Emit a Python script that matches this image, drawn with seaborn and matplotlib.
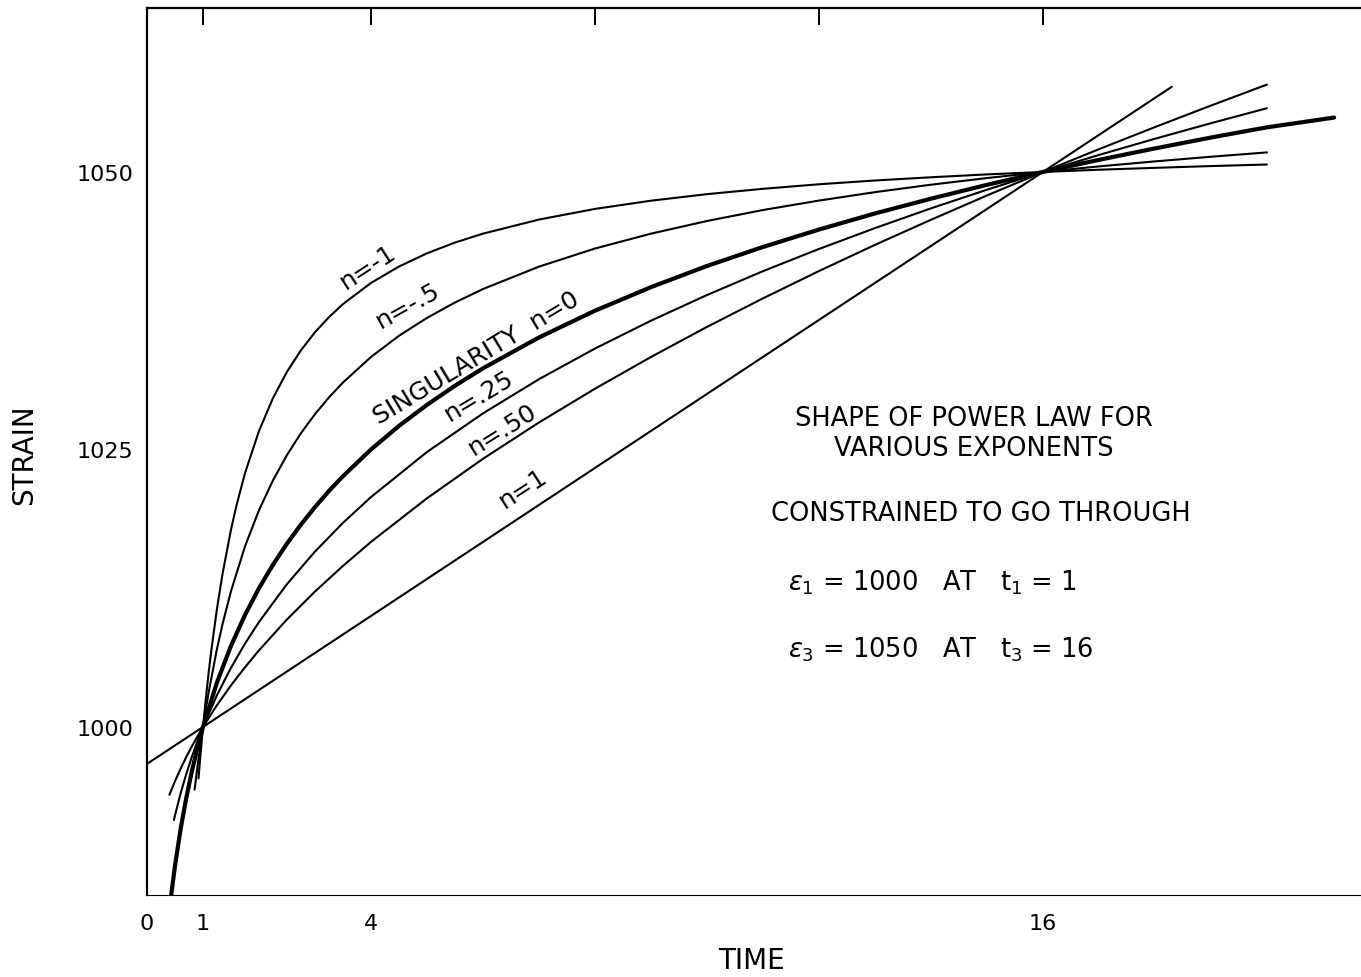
"""
Power-law creep curves constrained through two points.

Strain vs time for exponents n = -1, -.5, 0 (log, "singularity"), .25, .50, 1,
all passing through (1, 1000) and (16, 1050).
"""

import pandas as pd
import matplotlib
matplotlib.use("Agg")
import matplotlib.pyplot as plt
import seaborn as sns

# DATA #########################################################################
time_n_m1 = [0.92, 0.95, 1, 1.05, 1.1, 1.15, 1.25, 1.35, 1.5, 1.6, 1.75, 2,
             2.25, 2.5, 2.75, 3, 3.25, 3.5, 4, 4.5, 5, 5.5, 6, 7, 8, 9, 10,
             11, 12, 13, 14, 15, 16, 17, 18, 19, 20]
strain_n_m1 = [995.36, 997.19, 1000.0, 1002.54, 1004.85, 1006.95, 1010.67,
               1013.82, 1017.78, 1020.00, 1022.86, 1026.67, 1029.63, 1032.00,
               1033.94, 1035.56, 1036.92, 1038.10, 1040.00, 1041.48, 1042.67,
               1043.64, 1044.44, 1045.71, 1046.67, 1047.41, 1048.00, 1048.48,
               1048.89, 1049.23, 1049.52, 1049.78, 1050.00, 1050.20, 1050.37,
               1050.53, 1050.67]

time_n_m05 = [0.85, 0.9, 1, 1.1, 1.25, 1.35, 1.5, 1.75, 2, 2.25, 2.5, 2.75, 3,
              3.25, 3.5, 4, 4.5, 5, 5.5, 6, 7, 8, 9, 10, 11, 12, 13, 14, 15,
              16, 17, 18, 19, 20]
strain_n_m05 = [994.36, 996.39, 1000.0, 1003.10, 1007.04, 1009.29, 1012.23,
                1016.27, 1019.53, 1022.22, 1024.50, 1026.47, 1028.18, 1029.69,
                1031.03, 1033.33, 1035.24, 1036.85, 1038.24, 1039.45, 1041.47,
                1043.10, 1044.44, 1045.58, 1046.57, 1047.42, 1048.18, 1048.85,
                1049.45, 1050.00, 1050.50, 1050.95, 1051.37, 1051.76]

time_n_0 = [0.43, 0.5, 0.6, 0.7, 0.8, 0.9, 1, 1.25, 1.5, 1.75, 2, 2.25, 2.5,
            2.75, 3, 3.25, 3.5, 4, 4.5, 5, 5.5, 6, 7, 8, 9, 10, 11, 12, 13,
            14, 15, 16, 17, 18, 19, 20, 21.2]
strain_n_0 = [984.78, 987.50, 990.79, 993.57, 995.98, 998.10, 1000.0, 1004.02,
              1007.31, 1010.09, 1012.50, 1014.62, 1016.52, 1018.24, 1019.81,
              1021.26, 1022.59, 1025.00, 1027.12, 1029.02, 1030.74, 1032.31,
              1035.09, 1037.50, 1039.62, 1041.53, 1043.24, 1044.81, 1046.26,
              1047.59, 1048.84, 1050.00, 1051.09, 1052.12, 1053.10, 1054.02,
              1054.90]

time_n_025 = [0.48, 0.5, 0.6, 0.7, 0.8, 0.9, 1, 1.25, 1.5, 1.75, 2, 2.5, 3,
              3.5, 4, 5, 6, 7, 8, 9, 10, 11, 12, 13, 14, 15, 16, 17, 18, 19, 20]
strain_n_025 = [991.62, 992.04, 994.01, 995.74, 997.29, 998.70, 1000.0,
                1002.87, 1005.33, 1007.51, 1009.46, 1012.87, 1015.80, 1018.39,
                1020.71, 1024.77, 1028.25, 1031.33, 1034.09, 1036.60, 1038.91,
                1041.06, 1043.06, 1044.94, 1046.72, 1048.40, 1050.00, 1051.53,
                1052.99, 1054.39, 1055.74]

time_n_05 = [0.4, 0.5, 0.6, 0.7, 0.8, 0.9, 1, 1.25, 1.5, 1.75, 2, 2.5, 3, 3.5,
             4, 5, 6, 7, 8, 9, 10, 11, 12, 13, 14, 15, 16, 17, 18, 19, 20]
strain_n_05 = [993.88, 995.12, 996.24, 997.28, 998.24, 999.14, 1000.0, 1001.97,
               1003.75, 1005.38, 1006.90, 1009.69, 1012.20, 1014.51, 1016.67,
               1020.60, 1024.16, 1027.43, 1030.47, 1033.33, 1036.04, 1038.61,
               1041.07, 1043.43, 1045.69, 1047.88, 1050.00, 1052.05, 1054.04,
               1055.98, 1057.87]

time_n_1 = [0, 1, 16, 18.3]
strain_n_1 = [996.67, 1000.0, 1050.0, 1057.67]

# curve labels: text, time, strain, angle
curve_labels = ["n=-1", "n=-.5", "SINGULARITY  n=0", "n=.25", "n=.50", "n=1"]
label_time = [3.95, 4.66, 5.88, 5.93, 6.34, 6.72]
label_strain = [1041.5, 1038.0, 1033.3, 1029.9, 1026.9, 1021.5]
label_angle = [33, 29, 31, 31, 32, 33]

x_ticks = [0, 1, 4, 8, 12, 16]
x_ticklabels = ["0", "1", "4", "", "", "16"]
y_ticks = [1000, 1025, 1050]


def main():
    sns.set_style("white")
    plt.rcParams['font.family'] = ['DejaVu Sans']
    plt.rcParams['text.color'] = 'k'
    plt.rcParams['axes.labelcolor'] = 'k'

    curves = [
        ("-1", time_n_m1, strain_n_m1, 1.5),
        ("-.5", time_n_m05, strain_n_m05, 1.5),
        ("0", time_n_0, strain_n_0, 3.0),
        (".25", time_n_025, strain_n_025, 1.5),
        (".50", time_n_05, strain_n_05, 1.5),
        ("1", time_n_1, strain_n_1, 1.5),
    ]
    df = pd.concat([pd.DataFrame({'time': t, 'strain': s, 'n': n})
                    for n, t, s, _ in curves], ignore_index=True)

    # PLOT #####################################################################
    fig = plt.figure(figsize=(13.61, 9.78), dpi=100)
    ax = fig.add_axes([147 / 1361, 82 / 978, 1 - 147 / 1361, 887 / 978])

    for n, _, _, lw in curves:
        sns.lineplot(data=df[df['n'] == n], x='time', y='strain', ax=ax,
                     color='k', linewidth=lw, estimator=None)

    ax.set_xlim(0, 21.68)
    ax.set_ylim(984.86, 1064.77)

    # axes frame: left, top, thin bottom
    ax.spines['right'].set_visible(False)
    ax.spines['left'].set_linewidth(1.6)
    ax.spines['top'].set_linewidth(1.6)
    ax.spines['bottom'].set_linewidth(0.8)
    for sp in ax.spines.values():
        sp.set_color('k')

    ax.set_xticks(x_ticks)
    ax.set_xticklabels(x_ticklabels)
    ax.set_yticks(y_ticks)
    ax.tick_params(axis='x', direction='in', top=True, length=12, width=1.4,
                   pad=13, labelsize=16, colors='k')
    ax.tick_params(axis='y', direction='in', length=14, width=1.2,
                   pad=10, labelsize=16, colors='k')

    ax.set_xlabel("TIME", fontsize=20)
    ax.set_ylabel("STRAIN", fontsize=20)
    ax.xaxis.set_label_coords(0.498, -0.057)
    ax.yaxis.set_label_coords(-0.09, 0.497)

    # curve labels
    for txt, x, y, ang in zip(curve_labels, label_time, label_strain,
                              label_angle):
        ax.text(x, y, txt, rotation=ang, rotation_mode='anchor',
                ha='center', va='center', fontsize=18)

    # explanatory text
    ax.text(14.77, 1026.5, "SHAPE OF POWER LAW FOR\nVARIOUS EXPONENTS",
            ha='center', va='center', fontsize=18.5, linespacing=1.2)
    ax.text(14.89, 1019.28, "CONSTRAINED TO GO THROUGH",
            ha='center', va='center', fontsize=18.5)
    ax.text(11.45, 1013.06, r"$\epsilon_1$ = 1000   AT   $\mathrm{t}_1$ = 1",
            ha='left', va='center', fontsize=18.5)
    ax.text(11.45, 1007.03, r"$\epsilon_3$ = 1050   AT   $\mathrm{t}_3$ = 16",
            ha='left', va='center', fontsize=18.5)

    fig.savefig("out.png", dpi=100)


if __name__ == "__main__":
    main()
